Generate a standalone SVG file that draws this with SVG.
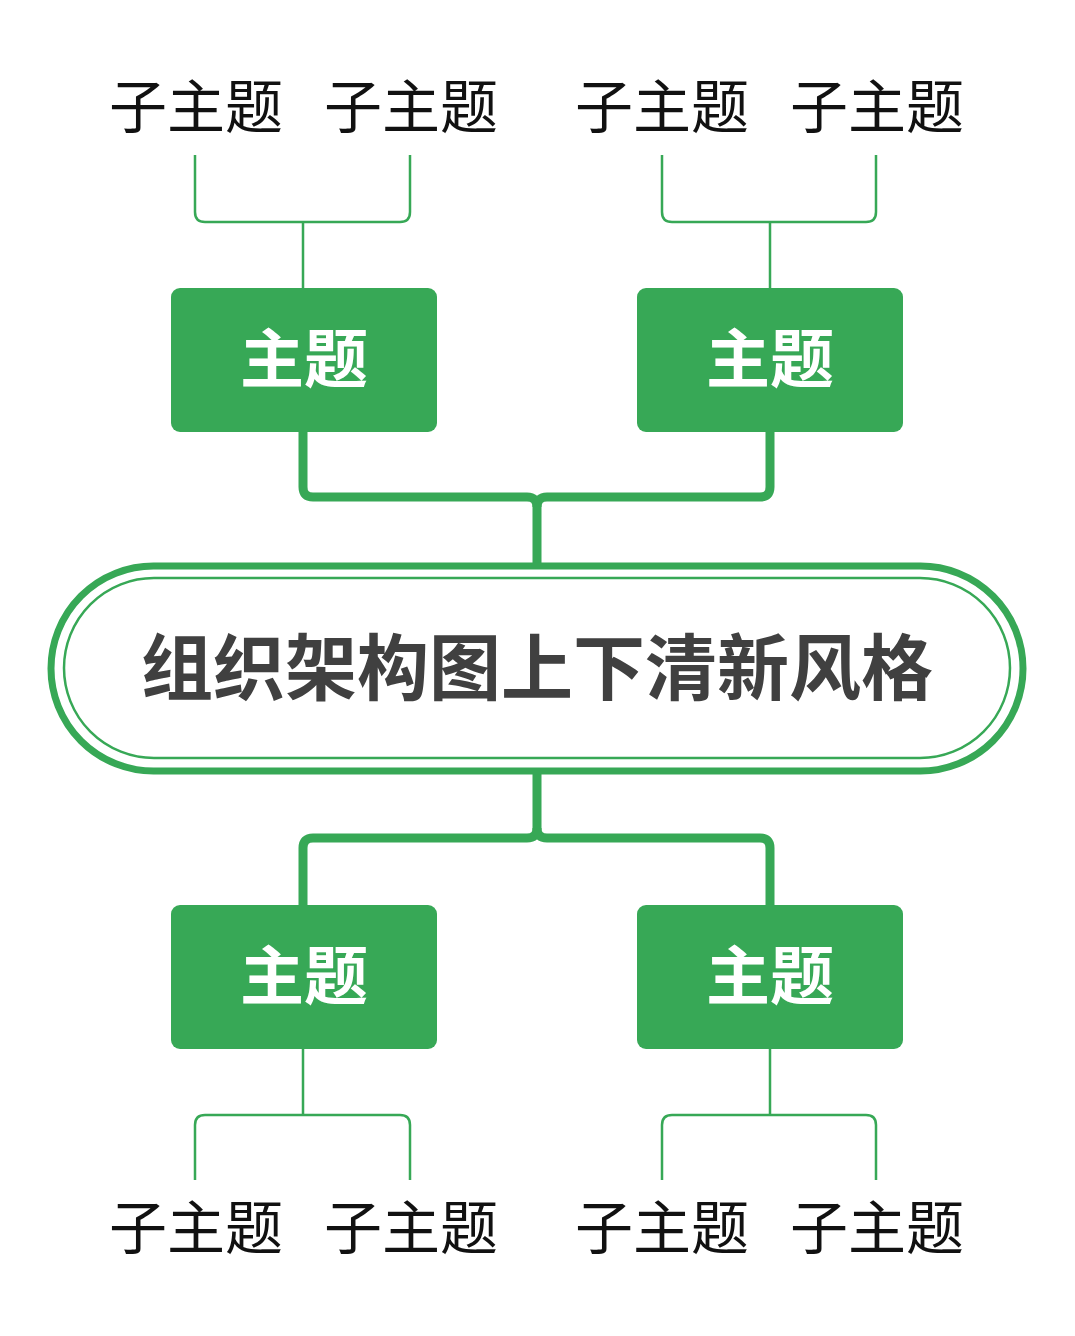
<svg xmlns="http://www.w3.org/2000/svg" width="1075" height="1336" viewBox="0 0 1075 1336">
<style>
.sub{font-family:"Liberation Sans","Noto Sans CJK SC",sans-serif;font-size:58px;fill:#111;text-anchor:middle}
.top{font-family:"Liberation Sans","Noto Sans CJK SC",sans-serif;font-size:64px;font-weight:bold;fill:#fff;text-anchor:middle}
.box{fill:#37a856}
.thin{fill:none;stroke:#37a856;stroke-width:2.5}
.thick{fill:none;stroke:#37a856;stroke-width:9;stroke-linejoin:round}
</style>
<rect width="1075" height="1336" fill="#fff"/>
<g id="connectors">
<path class="thin" d="M195 155V212q0 10 10 10H400q10 0 10-10V155M303 222V288"/>
<path class="thin" d="M662 155V212q0 10 10 10H866q10 0 10-10V155M770 222V288"/>
<path class="thin" d="M195 1180V1125q0-10 10-10H400q10 0 10 10V1180M303 1115V1049"/>
<path class="thin" d="M662 1180V1125q0-10 10-10H866q10 0 10 10V1180M770 1115V1049"/>
<path class="thick" d="M303 432V487q0 10 10 10H527q10 0 10 10V565"/>
<path class="thick" d="M770 432V487q0 10-10 10H547q-10 0-10 10"/>
<path class="thick" d="M537 773V828q0 10-10 10H313q-10 0-10 10V905"/>
<path class="thick" d="M537 828q0 10 10 10H760q10 0 10 10V905"/>
</g>
<g id="center">
<rect x="51" y="566" width="972" height="205" rx="102.5" fill="#fff" stroke="#37a856" stroke-width="7"/>
<rect x="64" y="578" width="946" height="180" rx="90" fill="none" stroke="#37a856" stroke-width="2.5"/>
<text x="537" y="694" font-family="Liberation Sans,Noto Sans CJK SC,sans-serif" font-size="72" font-weight="bold" fill="#404040" text-anchor="middle">组织架构图上下清新风格</text>
</g>
<g id="t1"><rect class="box" x="171" y="288" width="266" height="144" rx="9"/><text class="top" x="304" y="382">主题</text></g>
<g id="t2"><rect class="box" x="637" y="288" width="266" height="144" rx="9"/><text class="top" x="770" y="382">主题</text></g>
<g id="t3"><rect class="box" x="171" y="905" width="266" height="144" rx="9"/><text class="top" x="304" y="999">主题</text></g>
<g id="t4"><rect class="box" x="637" y="905" width="266" height="144" rx="9"/><text class="top" x="770" y="999">主题</text></g>
<g id="s1"><text class="sub" x="196" y="128">子主题</text></g>
<g id="s2"><text class="sub" x="411" y="128">子主题</text></g>
<g id="s3"><text class="sub" x="662" y="128">子主题</text></g>
<g id="s4"><text class="sub" x="877" y="128">子主题</text></g>
<g id="s5"><text class="sub" x="196" y="1249">子主题</text></g>
<g id="s6"><text class="sub" x="411" y="1249">子主题</text></g>
<g id="s7"><text class="sub" x="662" y="1249">子主题</text></g>
<g id="s8"><text class="sub" x="877" y="1249">子主题</text></g>
</svg>
